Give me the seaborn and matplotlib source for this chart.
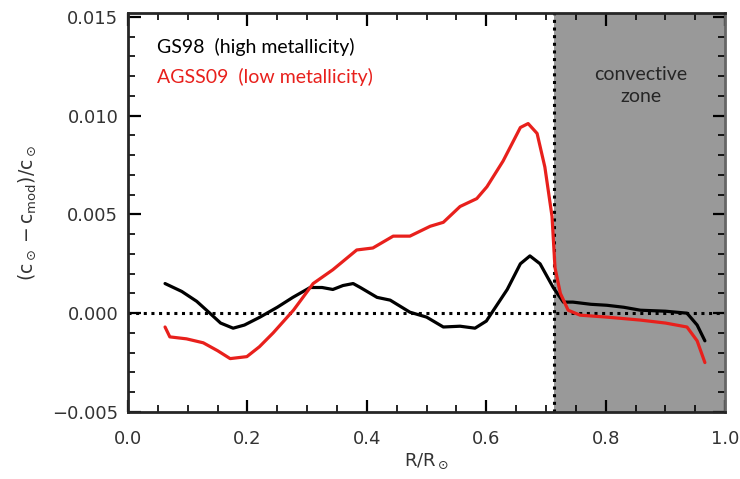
import numpy as np
import pandas as pd
import matplotlib
matplotlib.use("Agg")
import matplotlib.pyplot as plt
import seaborn as sns

# GS98 (high metallicity)
gs98_r = [0.062, 0.09, 0.115, 0.137, 0.155, 0.176, 0.195, 0.221, 0.25, 0.276, 0.305, 0.325,
          0.343, 0.36, 0.377, 0.389, 0.417, 0.439, 0.472, 0.50, 0.528, 0.556, 0.581, 0.60,
          0.612, 0.635, 0.657, 0.673, 0.69, 0.712, 0.729, 0.745, 0.775, 0.802, 0.83, 0.858,
          0.90, 0.936, 0.953, 0.966]
gs98_dc = [0.0015, 0.0011, 0.0006, 0.0000, -0.0005, -0.00076, -0.0006, -0.0002, 0.0003, 0.0008,
           0.0013, 0.0013, 0.0012, 0.0014, 0.0015, 0.0013, 0.0008, 0.00066, 0.00005, -0.0002,
           -0.0007, -0.00066, -0.00076, -0.0004, 0.00015, 0.0012, 0.0025, 0.0029, 0.0025, 0.0013,
           0.00056, 0.00056, 0.00045, 0.0004, 0.0003, 0.00015, 0.0001, 0.0, -0.0006, -0.0014]

# AGSS09 (low metallicity)
agss_r = [0.062, 0.07, 0.098, 0.126, 0.15, 0.171, 0.199, 0.22, 0.243, 0.277, 0.31, 0.343,
          0.383, 0.41, 0.444, 0.472, 0.506, 0.528, 0.556, 0.584, 0.601, 0.628, 0.657, 0.67,
          0.685, 0.698, 0.71, 0.715, 0.724, 0.737, 0.757, 0.802, 0.858, 0.90, 0.936, 0.953, 0.966]
agss_dc = [-0.0007, -0.0012, -0.0013, -0.0015, -0.0019, -0.0023, -0.0022, -0.0017, -0.0010,
           0.00015, 0.0015, 0.0022, 0.0032, 0.0033, 0.0039, 0.0039, 0.0044, 0.0046, 0.0054,
           0.0058, 0.0064, 0.0077, 0.0094, 0.0096, 0.0091, 0.0074, 0.0049, 0.0023, 0.0010,
           0.00015, -0.0001, -0.0002, -0.00035, -0.0005, -0.0007, -0.0014, -0.0025]

cz_edge = 0.713
labels = ["GS98  (high metallicity)", "AGSS09  (low metallicity)"]
colors = ["black", "#e8201c"]

df = pd.concat([
    pd.DataFrame({"r": gs98_r, "dc": gs98_dc, "model": labels[0]}),
    pd.DataFrame({"r": agss_r, "dc": agss_dc, "model": labels[1]}),
])

sns.set_style("ticks")
plt.rcParams["font.family"] = ["DejaVu Sans"]
plt.rcParams["mathtext.fontset"] = "dejavusans"

fig = plt.figure(figsize=(7.4, 4.79), dpi=100)
ax = fig.add_axes([0.173, 0.140, 0.807, 0.833])

ax.axvspan(cz_edge, 1.0, color="#999999", lw=0, zorder=0)
ax.axvline(cz_edge, color="black", ls=(0, (1, 1.5)), lw=2.2, zorder=1)
ax.axhline(0, color="black", ls=(0, (1, 1.5)), lw=2.2, zorder=1)

sns.lineplot(data=df, x="r", y="dc", hue="model", palette=colors, sort=False,
             lw=2.3, legend=False, ax=ax, zorder=3)

ax.set_xlim(0, 1.0)
ax.set_ylim(-0.005, 0.0152)
ax.set_xticks(np.arange(0, 1.01, 0.2))
ax.set_xticks(np.arange(0, 1.01, 0.05), minor=True)
ax.set_yticks(np.arange(-0.005, 0.0151, 0.005))
ax.set_yticks(np.arange(-0.005, 0.0151, 0.001), minor=True)
ax.set_xticklabels(["0.0", "0.2", "0.4", "0.6", "0.8", "1.0"])
ax.set_yticklabels(["\u22120.005", "0.000", "0.005", "0.010", "0.015"])

ax.tick_params(which="both", direction="in", top=True, right=True, colors="black",
               labelcolor="#333333", labelsize=13)
ax.tick_params(which="major", length=9, width=1.6)
ax.tick_params(which="minor", length=5, width=1.2)
ax.tick_params(axis="x", which="major", pad=13)
ax.tick_params(axis="y", which="major", pad=7)
for s in ax.spines.values():
    s.set_linewidth(2)
ax.spines["right"].set_color("#666666")

ax.set_xlabel(r"R/R$_\odot$", fontsize=13, color="#333333", labelpad=3)
ax.set_ylabel(r"$(\mathrm{c}_\odot - \mathrm{c}_{\mathrm{mod}})/\mathrm{c}_\odot$",
              fontsize=13.5, color="#333333", labelpad=10)

ax.text(0.048, 0.01348, labels[0], color=colors[0], fontsize=14, family="Lato",
        va="center")
ax.text(0.048, 0.01197, labels[1], color=colors[1], fontsize=14, family="Lato",
        va="center")
ax.text(0.859, 0.01152, "convective\nzone", fontsize=14, family="Lato",
        ha="center", va="center", linespacing=1.35)

fig.savefig("out.png", dpi=100)
